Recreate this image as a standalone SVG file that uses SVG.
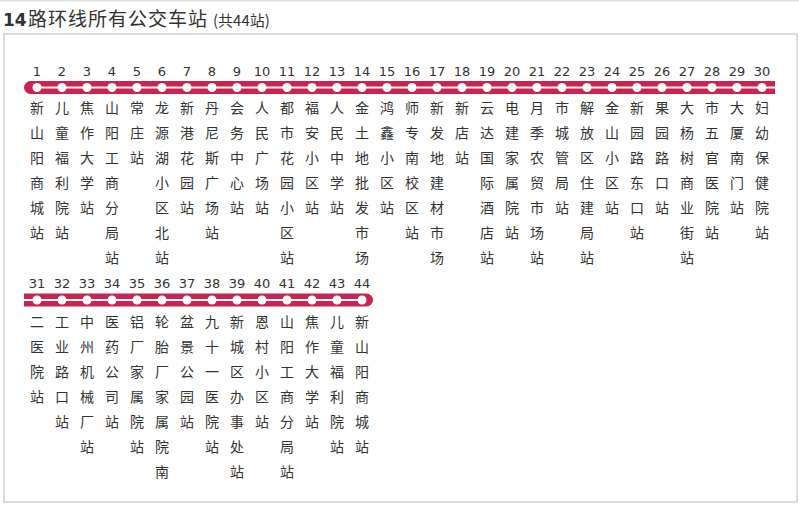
<svg xmlns="http://www.w3.org/2000/svg" width="799" height="505" viewBox="0 0 799 505">
<style>
.num{font-family:"DejaVu Sans","Liberation Sans",sans-serif;font-size:13px;fill:#333;text-anchor:middle}
.nm{font-family:"Noto Sans CJK SC","Noto Sans",sans-serif;font-size:14px;fill:#333;text-anchor:middle}
.stop{fill:#fff}
.bar{fill:#c9234f}
.track{stroke:#fff;stroke-width:2;fill:none}
</style>
<rect x="0" y="0" width="799" height="505" fill="#fff"/>
<rect x="0" y="0" width="799" height="1.5" fill="#e2e2e2"/>
<g id="title">
<text x="3" y="26" font-family="DejaVu Sans,sans-serif" font-weight="bold" font-size="17" fill="#333">14</text>
<text x="28" y="26" font-family="Noto Sans CJK SC,sans-serif" font-size="19" letter-spacing="1" fill="#333">路环线所有公交车站</text>
<text x="213" y="26" font-family="Noto Sans CJK SC,sans-serif" font-size="15" fill="#333">(共44站)</text>
</g>
<rect x="4" y="34" width="793" height="468" fill="#fff" stroke="#dcdcdc" stroke-width="2"/>
<g id="connectors">
<path class="bar" d="M30.5 81H775V94H30.5A6.5 6.5 0 0 1 30.5 81Z"/>
<line class="track" x1="37" y1="87.5" x2="775" y2="87.5"/>
<path class="bar" d="M24 293.5H366.5A6.5 6.5 0 0 1 366.5 306.5H24Z"/>
<line class="track" x1="24" y1="300" x2="362" y2="300"/>
</g>
<g id="s1"><text class="num" x="37" y="75.5">1</text><circle class="stop" cx="37" cy="87.5" r="4.5"/><text class="nm" y="113"><tspan x="37">新</tspan><tspan x="37" dy="25">山</tspan><tspan x="37" dy="25">阳</tspan><tspan x="37" dy="25">商</tspan><tspan x="37" dy="25">城</tspan><tspan x="37" dy="25">站</tspan></text></g>
<g id="s2"><text class="num" x="62" y="75.5">2</text><circle class="stop" cx="62" cy="87.5" r="4.5"/><text class="nm" y="113"><tspan x="62">儿</tspan><tspan x="62" dy="25">童</tspan><tspan x="62" dy="25">福</tspan><tspan x="62" dy="25">利</tspan><tspan x="62" dy="25">院</tspan><tspan x="62" dy="25">站</tspan></text></g>
<g id="s3"><text class="num" x="87" y="75.5">3</text><circle class="stop" cx="87" cy="87.5" r="4.5"/><text class="nm" y="113"><tspan x="87">焦</tspan><tspan x="87" dy="25">作</tspan><tspan x="87" dy="25">大</tspan><tspan x="87" dy="25">学</tspan><tspan x="87" dy="25">站</tspan></text></g>
<g id="s4"><text class="num" x="112" y="75.5">4</text><circle class="stop" cx="112" cy="87.5" r="4.5"/><text class="nm" y="113"><tspan x="112">山</tspan><tspan x="112" dy="25">阳</tspan><tspan x="112" dy="25">工</tspan><tspan x="112" dy="25">商</tspan><tspan x="112" dy="25">分</tspan><tspan x="112" dy="25">局</tspan><tspan x="112" dy="25">站</tspan></text></g>
<g id="s5"><text class="num" x="137" y="75.5">5</text><circle class="stop" cx="137" cy="87.5" r="4.5"/><text class="nm" y="113"><tspan x="137">常</tspan><tspan x="137" dy="25">庄</tspan><tspan x="137" dy="25">站</tspan></text></g>
<g id="s6"><text class="num" x="162" y="75.5">6</text><circle class="stop" cx="162" cy="87.5" r="4.5"/><text class="nm" y="113"><tspan x="162">龙</tspan><tspan x="162" dy="25">源</tspan><tspan x="162" dy="25">湖</tspan><tspan x="162" dy="25">小</tspan><tspan x="162" dy="25">区</tspan><tspan x="162" dy="25">北</tspan><tspan x="162" dy="25">站</tspan></text></g>
<g id="s7"><text class="num" x="187" y="75.5">7</text><circle class="stop" cx="187" cy="87.5" r="4.5"/><text class="nm" y="113"><tspan x="187">新</tspan><tspan x="187" dy="25">港</tspan><tspan x="187" dy="25">花</tspan><tspan x="187" dy="25">园</tspan><tspan x="187" dy="25">站</tspan></text></g>
<g id="s8"><text class="num" x="212" y="75.5">8</text><circle class="stop" cx="212" cy="87.5" r="4.5"/><text class="nm" y="113"><tspan x="212">丹</tspan><tspan x="212" dy="25">尼</tspan><tspan x="212" dy="25">斯</tspan><tspan x="212" dy="25">广</tspan><tspan x="212" dy="25">场</tspan><tspan x="212" dy="25">站</tspan></text></g>
<g id="s9"><text class="num" x="237" y="75.5">9</text><circle class="stop" cx="237" cy="87.5" r="4.5"/><text class="nm" y="113"><tspan x="237">会</tspan><tspan x="237" dy="25">务</tspan><tspan x="237" dy="25">中</tspan><tspan x="237" dy="25">心</tspan><tspan x="237" dy="25">站</tspan></text></g>
<g id="s10"><text class="num" x="262" y="75.5">10</text><circle class="stop" cx="262" cy="87.5" r="4.5"/><text class="nm" y="113"><tspan x="262">人</tspan><tspan x="262" dy="25">民</tspan><tspan x="262" dy="25">广</tspan><tspan x="262" dy="25">场</tspan><tspan x="262" dy="25">站</tspan></text></g>
<g id="s11"><text class="num" x="287" y="75.5">11</text><circle class="stop" cx="287" cy="87.5" r="4.5"/><text class="nm" y="113"><tspan x="287">都</tspan><tspan x="287" dy="25">市</tspan><tspan x="287" dy="25">花</tspan><tspan x="287" dy="25">园</tspan><tspan x="287" dy="25">小</tspan><tspan x="287" dy="25">区</tspan><tspan x="287" dy="25">站</tspan></text></g>
<g id="s12"><text class="num" x="312" y="75.5">12</text><circle class="stop" cx="312" cy="87.5" r="4.5"/><text class="nm" y="113"><tspan x="312">福</tspan><tspan x="312" dy="25">安</tspan><tspan x="312" dy="25">小</tspan><tspan x="312" dy="25">区</tspan><tspan x="312" dy="25">站</tspan></text></g>
<g id="s13"><text class="num" x="337" y="75.5">13</text><circle class="stop" cx="337" cy="87.5" r="4.5"/><text class="nm" y="113"><tspan x="337">人</tspan><tspan x="337" dy="25">民</tspan><tspan x="337" dy="25">中</tspan><tspan x="337" dy="25">学</tspan><tspan x="337" dy="25">站</tspan></text></g>
<g id="s14"><text class="num" x="362" y="75.5">14</text><circle class="stop" cx="362" cy="87.5" r="4.5"/><text class="nm" y="113"><tspan x="362">金</tspan><tspan x="362" dy="25">土</tspan><tspan x="362" dy="25">地</tspan><tspan x="362" dy="25">批</tspan><tspan x="362" dy="25">发</tspan><tspan x="362" dy="25">市</tspan><tspan x="362" dy="25">场</tspan></text></g>
<g id="s15"><text class="num" x="387" y="75.5">15</text><circle class="stop" cx="387" cy="87.5" r="4.5"/><text class="nm" y="113"><tspan x="387">鸿</tspan><tspan x="387" dy="25">鑫</tspan><tspan x="387" dy="25">小</tspan><tspan x="387" dy="25">区</tspan><tspan x="387" dy="25">站</tspan></text></g>
<g id="s16"><text class="num" x="412" y="75.5">16</text><circle class="stop" cx="412" cy="87.5" r="4.5"/><text class="nm" y="113"><tspan x="412">师</tspan><tspan x="412" dy="25">专</tspan><tspan x="412" dy="25">南</tspan><tspan x="412" dy="25">校</tspan><tspan x="412" dy="25">区</tspan><tspan x="412" dy="25">站</tspan></text></g>
<g id="s17"><text class="num" x="437" y="75.5">17</text><circle class="stop" cx="437" cy="87.5" r="4.5"/><text class="nm" y="113"><tspan x="437">新</tspan><tspan x="437" dy="25">发</tspan><tspan x="437" dy="25">地</tspan><tspan x="437" dy="25">建</tspan><tspan x="437" dy="25">材</tspan><tspan x="437" dy="25">市</tspan><tspan x="437" dy="25">场</tspan></text></g>
<g id="s18"><text class="num" x="462" y="75.5">18</text><circle class="stop" cx="462" cy="87.5" r="4.5"/><text class="nm" y="113"><tspan x="462">新</tspan><tspan x="462" dy="25">店</tspan><tspan x="462" dy="25">站</tspan></text></g>
<g id="s19"><text class="num" x="487" y="75.5">19</text><circle class="stop" cx="487" cy="87.5" r="4.5"/><text class="nm" y="113"><tspan x="487">云</tspan><tspan x="487" dy="25">达</tspan><tspan x="487" dy="25">国</tspan><tspan x="487" dy="25">际</tspan><tspan x="487" dy="25">酒</tspan><tspan x="487" dy="25">店</tspan><tspan x="487" dy="25">站</tspan></text></g>
<g id="s20"><text class="num" x="512" y="75.5">20</text><circle class="stop" cx="512" cy="87.5" r="4.5"/><text class="nm" y="113"><tspan x="512">电</tspan><tspan x="512" dy="25">建</tspan><tspan x="512" dy="25">家</tspan><tspan x="512" dy="25">属</tspan><tspan x="512" dy="25">院</tspan><tspan x="512" dy="25">站</tspan></text></g>
<g id="s21"><text class="num" x="537" y="75.5">21</text><circle class="stop" cx="537" cy="87.5" r="4.5"/><text class="nm" y="113"><tspan x="537">月</tspan><tspan x="537" dy="25">季</tspan><tspan x="537" dy="25">农</tspan><tspan x="537" dy="25">贸</tspan><tspan x="537" dy="25">市</tspan><tspan x="537" dy="25">场</tspan><tspan x="537" dy="25">站</tspan></text></g>
<g id="s22"><text class="num" x="562" y="75.5">22</text><circle class="stop" cx="562" cy="87.5" r="4.5"/><text class="nm" y="113"><tspan x="562">市</tspan><tspan x="562" dy="25">城</tspan><tspan x="562" dy="25">管</tspan><tspan x="562" dy="25">局</tspan><tspan x="562" dy="25">站</tspan></text></g>
<g id="s23"><text class="num" x="587" y="75.5">23</text><circle class="stop" cx="587" cy="87.5" r="4.5"/><text class="nm" y="113"><tspan x="587">解</tspan><tspan x="587" dy="25">放</tspan><tspan x="587" dy="25">区</tspan><tspan x="587" dy="25">住</tspan><tspan x="587" dy="25">建</tspan><tspan x="587" dy="25">局</tspan><tspan x="587" dy="25">站</tspan></text></g>
<g id="s24"><text class="num" x="612" y="75.5">24</text><circle class="stop" cx="612" cy="87.5" r="4.5"/><text class="nm" y="113"><tspan x="612">金</tspan><tspan x="612" dy="25">山</tspan><tspan x="612" dy="25">小</tspan><tspan x="612" dy="25">区</tspan><tspan x="612" dy="25">站</tspan></text></g>
<g id="s25"><text class="num" x="637" y="75.5">25</text><circle class="stop" cx="637" cy="87.5" r="4.5"/><text class="nm" y="113"><tspan x="637">新</tspan><tspan x="637" dy="25">园</tspan><tspan x="637" dy="25">路</tspan><tspan x="637" dy="25">东</tspan><tspan x="637" dy="25">口</tspan><tspan x="637" dy="25">站</tspan></text></g>
<g id="s26"><text class="num" x="662" y="75.5">26</text><circle class="stop" cx="662" cy="87.5" r="4.5"/><text class="nm" y="113"><tspan x="662">果</tspan><tspan x="662" dy="25">园</tspan><tspan x="662" dy="25">路</tspan><tspan x="662" dy="25">口</tspan><tspan x="662" dy="25">站</tspan></text></g>
<g id="s27"><text class="num" x="687" y="75.5">27</text><circle class="stop" cx="687" cy="87.5" r="4.5"/><text class="nm" y="113"><tspan x="687">大</tspan><tspan x="687" dy="25">杨</tspan><tspan x="687" dy="25">树</tspan><tspan x="687" dy="25">商</tspan><tspan x="687" dy="25">业</tspan><tspan x="687" dy="25">街</tspan><tspan x="687" dy="25">站</tspan></text></g>
<g id="s28"><text class="num" x="712" y="75.5">28</text><circle class="stop" cx="712" cy="87.5" r="4.5"/><text class="nm" y="113"><tspan x="712">市</tspan><tspan x="712" dy="25">五</tspan><tspan x="712" dy="25">官</tspan><tspan x="712" dy="25">医</tspan><tspan x="712" dy="25">院</tspan><tspan x="712" dy="25">站</tspan></text></g>
<g id="s29"><text class="num" x="737" y="75.5">29</text><circle class="stop" cx="737" cy="87.5" r="4.5"/><text class="nm" y="113"><tspan x="737">大</tspan><tspan x="737" dy="25">厦</tspan><tspan x="737" dy="25">南</tspan><tspan x="737" dy="25">门</tspan><tspan x="737" dy="25">站</tspan></text></g>
<g id="s30"><text class="num" x="762" y="75.5">30</text><circle class="stop" cx="762" cy="87.5" r="4.5"/><text class="nm" y="113"><tspan x="762">妇</tspan><tspan x="762" dy="25">幼</tspan><tspan x="762" dy="25">保</tspan><tspan x="762" dy="25">健</tspan><tspan x="762" dy="25">院</tspan><tspan x="762" dy="25">站</tspan></text></g>
<g id="s31"><text class="num" x="37" y="287.5">31</text><circle class="stop" cx="37" cy="300" r="4.5"/><text class="nm" y="327"><tspan x="37">二</tspan><tspan x="37" dy="25">医</tspan><tspan x="37" dy="25">院</tspan><tspan x="37" dy="25">站</tspan></text></g>
<g id="s32"><text class="num" x="62" y="287.5">32</text><circle class="stop" cx="62" cy="300" r="4.5"/><text class="nm" y="327"><tspan x="62">工</tspan><tspan x="62" dy="25">业</tspan><tspan x="62" dy="25">路</tspan><tspan x="62" dy="25">口</tspan><tspan x="62" dy="25">站</tspan></text></g>
<g id="s33"><text class="num" x="87" y="287.5">33</text><circle class="stop" cx="87" cy="300" r="4.5"/><text class="nm" y="327"><tspan x="87">中</tspan><tspan x="87" dy="25">州</tspan><tspan x="87" dy="25">机</tspan><tspan x="87" dy="25">械</tspan><tspan x="87" dy="25">厂</tspan><tspan x="87" dy="25">站</tspan></text></g>
<g id="s34"><text class="num" x="112" y="287.5">34</text><circle class="stop" cx="112" cy="300" r="4.5"/><text class="nm" y="327"><tspan x="112">医</tspan><tspan x="112" dy="25">药</tspan><tspan x="112" dy="25">公</tspan><tspan x="112" dy="25">司</tspan><tspan x="112" dy="25">站</tspan></text></g>
<g id="s35"><text class="num" x="137" y="287.5">35</text><circle class="stop" cx="137" cy="300" r="4.5"/><text class="nm" y="327"><tspan x="137">铝</tspan><tspan x="137" dy="25">厂</tspan><tspan x="137" dy="25">家</tspan><tspan x="137" dy="25">属</tspan><tspan x="137" dy="25">院</tspan><tspan x="137" dy="25">站</tspan></text></g>
<g id="s36"><text class="num" x="162" y="287.5">36</text><circle class="stop" cx="162" cy="300" r="4.5"/><text class="nm" y="327"><tspan x="162">轮</tspan><tspan x="162" dy="25">胎</tspan><tspan x="162" dy="25">厂</tspan><tspan x="162" dy="25">家</tspan><tspan x="162" dy="25">属</tspan><tspan x="162" dy="25">院</tspan><tspan x="162" dy="25">南</tspan></text></g>
<g id="s37"><text class="num" x="187" y="287.5">37</text><circle class="stop" cx="187" cy="300" r="4.5"/><text class="nm" y="327"><tspan x="187">盆</tspan><tspan x="187" dy="25">景</tspan><tspan x="187" dy="25">公</tspan><tspan x="187" dy="25">园</tspan><tspan x="187" dy="25">站</tspan></text></g>
<g id="s38"><text class="num" x="212" y="287.5">38</text><circle class="stop" cx="212" cy="300" r="4.5"/><text class="nm" y="327"><tspan x="212">九</tspan><tspan x="212" dy="25">十</tspan><tspan x="212" dy="25">一</tspan><tspan x="212" dy="25">医</tspan><tspan x="212" dy="25">院</tspan><tspan x="212" dy="25">站</tspan></text></g>
<g id="s39"><text class="num" x="237" y="287.5">39</text><circle class="stop" cx="237" cy="300" r="4.5"/><text class="nm" y="327"><tspan x="237">新</tspan><tspan x="237" dy="25">城</tspan><tspan x="237" dy="25">区</tspan><tspan x="237" dy="25">办</tspan><tspan x="237" dy="25">事</tspan><tspan x="237" dy="25">处</tspan><tspan x="237" dy="25">站</tspan></text></g>
<g id="s40"><text class="num" x="262" y="287.5">40</text><circle class="stop" cx="262" cy="300" r="4.5"/><text class="nm" y="327"><tspan x="262">恩</tspan><tspan x="262" dy="25">村</tspan><tspan x="262" dy="25">小</tspan><tspan x="262" dy="25">区</tspan><tspan x="262" dy="25">站</tspan></text></g>
<g id="s41"><text class="num" x="287" y="287.5">41</text><circle class="stop" cx="287" cy="300" r="4.5"/><text class="nm" y="327"><tspan x="287">山</tspan><tspan x="287" dy="25">阳</tspan><tspan x="287" dy="25">工</tspan><tspan x="287" dy="25">商</tspan><tspan x="287" dy="25">分</tspan><tspan x="287" dy="25">局</tspan><tspan x="287" dy="25">站</tspan></text></g>
<g id="s42"><text class="num" x="312" y="287.5">42</text><circle class="stop" cx="312" cy="300" r="4.5"/><text class="nm" y="327"><tspan x="312">焦</tspan><tspan x="312" dy="25">作</tspan><tspan x="312" dy="25">大</tspan><tspan x="312" dy="25">学</tspan><tspan x="312" dy="25">站</tspan></text></g>
<g id="s43"><text class="num" x="337" y="287.5">43</text><circle class="stop" cx="337" cy="300" r="4.5"/><text class="nm" y="327"><tspan x="337">儿</tspan><tspan x="337" dy="25">童</tspan><tspan x="337" dy="25">福</tspan><tspan x="337" dy="25">利</tspan><tspan x="337" dy="25">院</tspan><tspan x="337" dy="25">站</tspan></text></g>
<g id="s44"><text class="num" x="362" y="287.5">44</text><circle class="stop" cx="362" cy="300" r="4.5"/><text class="nm" y="327"><tspan x="362">新</tspan><tspan x="362" dy="25">山</tspan><tspan x="362" dy="25">阳</tspan><tspan x="362" dy="25">商</tspan><tspan x="362" dy="25">城</tspan><tspan x="362" dy="25">站</tspan></text></g>
</svg>
